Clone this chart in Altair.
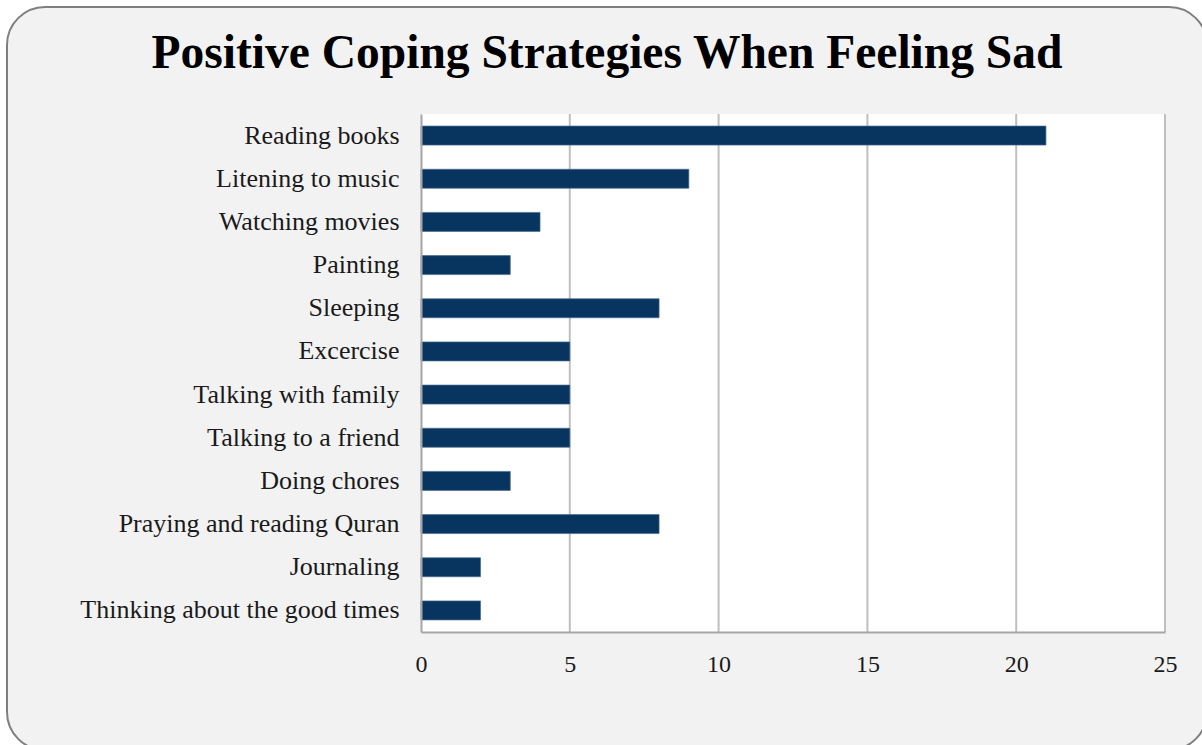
import altair as alt
import pandas as pd

categories = [
    "Reading books", "Litening to music", "Watching movies", "Painting",
    "Sleeping", "Excercise", "Talking with family", "Talking to a friend",
    "Doing chores", "Praying and reading Quran", "Journaling ",
    "Thinking about the good times",
]
values = [21, 9, 4, 3, 8, 5, 5, 5, 3, 8, 2, 2]
x_ticks = [0, 5, 10, 15, 20, 25]
title_text = "Positive Coping Strategies When Feeling Sad"

df = pd.DataFrame({"strategy": categories, "count": values})
grid_df = pd.DataFrame({"tick": x_ticks[1:]})

FONT = "Liberation Serif"
xscale = alt.Scale(domain=[0, 25], nice=False)

frame = alt.Chart(pd.DataFrame({"k": [0]})).mark_rect(
    fill="#f2f2f2", stroke="#7f7f7f", strokeWidth=2, cornerRadius=38
).encode(
    x=alt.value(-414), x2=alt.value(786),
    y=alt.value(-107), y2=alt.value(636),
)

plot_bg = alt.Chart(pd.DataFrame({"k": [0]})).mark_rect(fill="white").encode(
    x=alt.value(0), x2=alt.value(744), y=alt.value(0), y2=alt.value(518)
)

grid = alt.Chart(grid_df).mark_rule(color="#bfbfbf", strokeWidth=2).encode(
    x=alt.X("tick:Q", scale=xscale), y=alt.value(0), y2=alt.value(518)
)

title = alt.Chart(pd.DataFrame({"k": [0]})).mark_text(
    font=FONT, fontSize=47.5, fontWeight="bold", color="black",
    align="center", baseline="middle"
).encode(x=alt.value(186), y=alt.value(-60), text=alt.value(title_text))

bars = alt.Chart(df).mark_bar(color="#08355f", stroke="#4a6b8f", strokeWidth=0.7).encode(
    x=alt.X("count:Q", scale=xscale,
            axis=alt.Axis(values=x_ticks, title=None, grid=False,
                          domainColor="#a6a6a6", domainWidth=2, labelFlush=False,
                          ticks=False, labelPadding=20, labelFontSize=24,
                          labelFont=FONT, labelColor="#1a1a1a", zindex=1)),
    y=alt.Y("strategy:N", sort=categories,
            scale=alt.Scale(paddingInner=0.56, paddingOuter=0.28),
            axis=alt.Axis(title=None, ticks=False, domainColor="#a6a6a6", domainWidth=2,
                          labelPadding=22, labelFontSize=26, labelFont=FONT,
                          labelColor="#1a1a1a", labelLimit=400, zindex=1)),
)

chart = alt.layer(frame, plot_bg, grid, title, bars).properties(
    width=744, height=518,
    autosize=alt.AutoSizeParams(type="none"),
    padding={"left": 421, "top": 114, "right": 37, "bottom": 113},
).configure(background="white").configure_view(stroke=None)

chart.save("out.html", embed_options={"renderer": "svg", "actions": False})
